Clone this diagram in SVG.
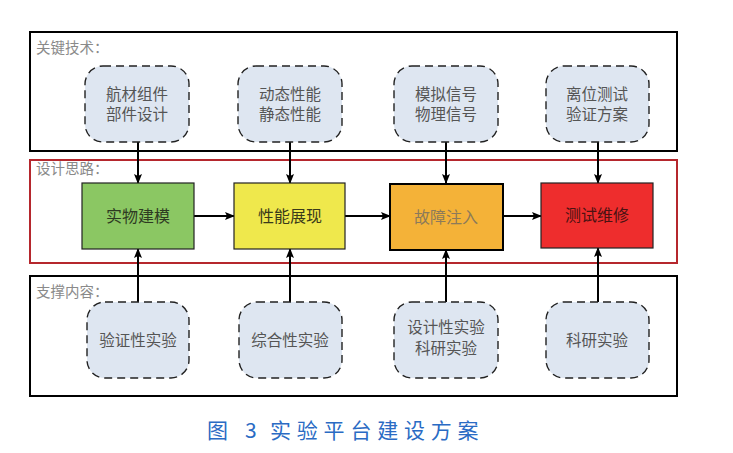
<svg xmlns="http://www.w3.org/2000/svg" width="733" height="453" viewBox="0 0 733 453">
<style>
.frame{fill:none;stroke:#000;stroke-width:2}
.soft{fill:#dee6f1;stroke:#222;stroke-width:1.4;stroke-dasharray:8 5}
.lbl{font-family:"Liberation Serif","Noto Sans CJK SC",serif;font-size:14.5px;fill:#8a8a8a}
.t{font-family:"Noto Sans CJK SC",sans-serif;font-size:15.5px;fill:#555;text-anchor:middle}
.m{font-family:"Noto Sans CJK SC",sans-serif;font-size:16px;text-anchor:middle}
.c{stroke:#000;stroke-width:2;fill:none;marker-end:url(#ah)}
</style>
<defs>
<marker id="ah" markerWidth="10" markerHeight="8" refX="9" refY="4" orient="auto" markerUnits="userSpaceOnUse">
<path d="M0,0 L10,4 L0,8 L2,4 Z" fill="#000"/>
</marker>
</defs>
<rect width="733" height="453" fill="#fff"/>
<g id="frames">
<rect class="frame" x="30" y="32" width="647" height="119"/>
<rect x="30" y="160" width="647" height="103" fill="none" stroke="#b5272d" stroke-width="2"/>
<rect class="frame" x="30" y="276" width="647" height="120"/>
<text class="lbl" x="36" y="53">关键技术：</text>
<text class="lbl" x="36" y="174">设计思路：</text>
<text class="lbl" x="36" y="297">支撑内容：</text>
</g>
<g id="connectors">
<line class="c" x1="138" y1="142" x2="138" y2="183"/>
<line class="c" x1="290" y1="142" x2="290" y2="183"/>
<line class="c" x1="446" y1="142" x2="446" y2="183"/>
<line class="c" x1="598" y1="142" x2="598" y2="183"/>
<line class="c" x1="138" y1="302" x2="138" y2="249"/>
<line class="c" x1="290" y1="302" x2="290" y2="249"/>
<line class="c" x1="446" y1="302" x2="446" y2="250"/>
<line class="c" x1="598" y1="302" x2="598" y2="248"/>
<line class="c" x1="194" y1="216" x2="234" y2="216"/>
<line class="c" x1="345" y1="216" x2="390" y2="216"/>
<line class="c" x1="503" y1="216" x2="541" y2="216"/>
</g>
<g id="k1"><rect class="soft" x="85" y="66" width="104" height="76" rx="18"/><text class="t" x="137" y="100">航材组件</text><text class="t" x="137" y="120">部件设计</text></g>
<g id="k2"><rect class="soft" x="238" y="66" width="104" height="76" rx="18"/><text class="t" x="290" y="100">动态性能</text><text class="t" x="290" y="120">静态性能</text></g>
<g id="k3"><rect class="soft" x="394" y="66" width="104" height="76" rx="18"/><text class="t" x="446" y="100">模拟信号</text><text class="t" x="446" y="120">物理信号</text></g>
<g id="k4"><rect class="soft" x="546" y="66" width="103" height="76" rx="18"/><text class="t" x="597" y="100">离位测试</text><text class="t" x="597" y="120">验证方案</text></g>
<g id="d1"><rect x="82" y="183" width="112" height="66" fill="#8bc763" stroke="#222" stroke-width="1.2"/><text class="m" x="138" y="222" fill="#2e3a22">实物建模</text></g>
<g id="d2"><rect x="234" y="183" width="111" height="66" fill="#efe84c" stroke="#222" stroke-width="1.2"/><text class="m" x="290" y="222" fill="#3a3a1a">性能展现</text></g>
<g id="d3"><rect x="390" y="184" width="113" height="66" fill="#f4b238" stroke="#000" stroke-width="2"/><text class="m" x="446" y="223" fill="#8c7a5a">故障注入</text></g>
<g id="d4"><rect x="541" y="183" width="112" height="65" fill="#ee2d2d" stroke="#222" stroke-width="1.2"/><text class="m" x="597" y="221" fill="#4a1212">测试维修</text></g>
<g id="s1"><rect class="soft" x="87" y="302" width="102" height="76" rx="18"/><text class="t" x="138" y="346">验证性实验</text></g>
<g id="s2"><rect class="soft" x="239" y="302" width="103" height="76" rx="18"/><text class="t" x="290" y="346">综合性实验</text></g>
<g id="s3"><rect class="soft" x="394" y="302" width="104" height="76" rx="18"/><text class="t" x="446" y="333">设计性实验</text><text class="t" x="446" y="354">科研实验</text></g>
<g id="s4"><rect class="soft" x="546" y="302" width="103" height="76" rx="18"/><text class="t" x="597" y="346">科研实验</text></g>
<g id="caption" font-family="'Noto Sans CJK SC',sans-serif" font-size="21" fill="#2a6bc4">
<text x="207" y="438">图</text>
<text x="245" y="438">3</text>
<text x="270" y="438" letter-spacing="5.8">实验平台建设方案</text>
</g>
</svg>
